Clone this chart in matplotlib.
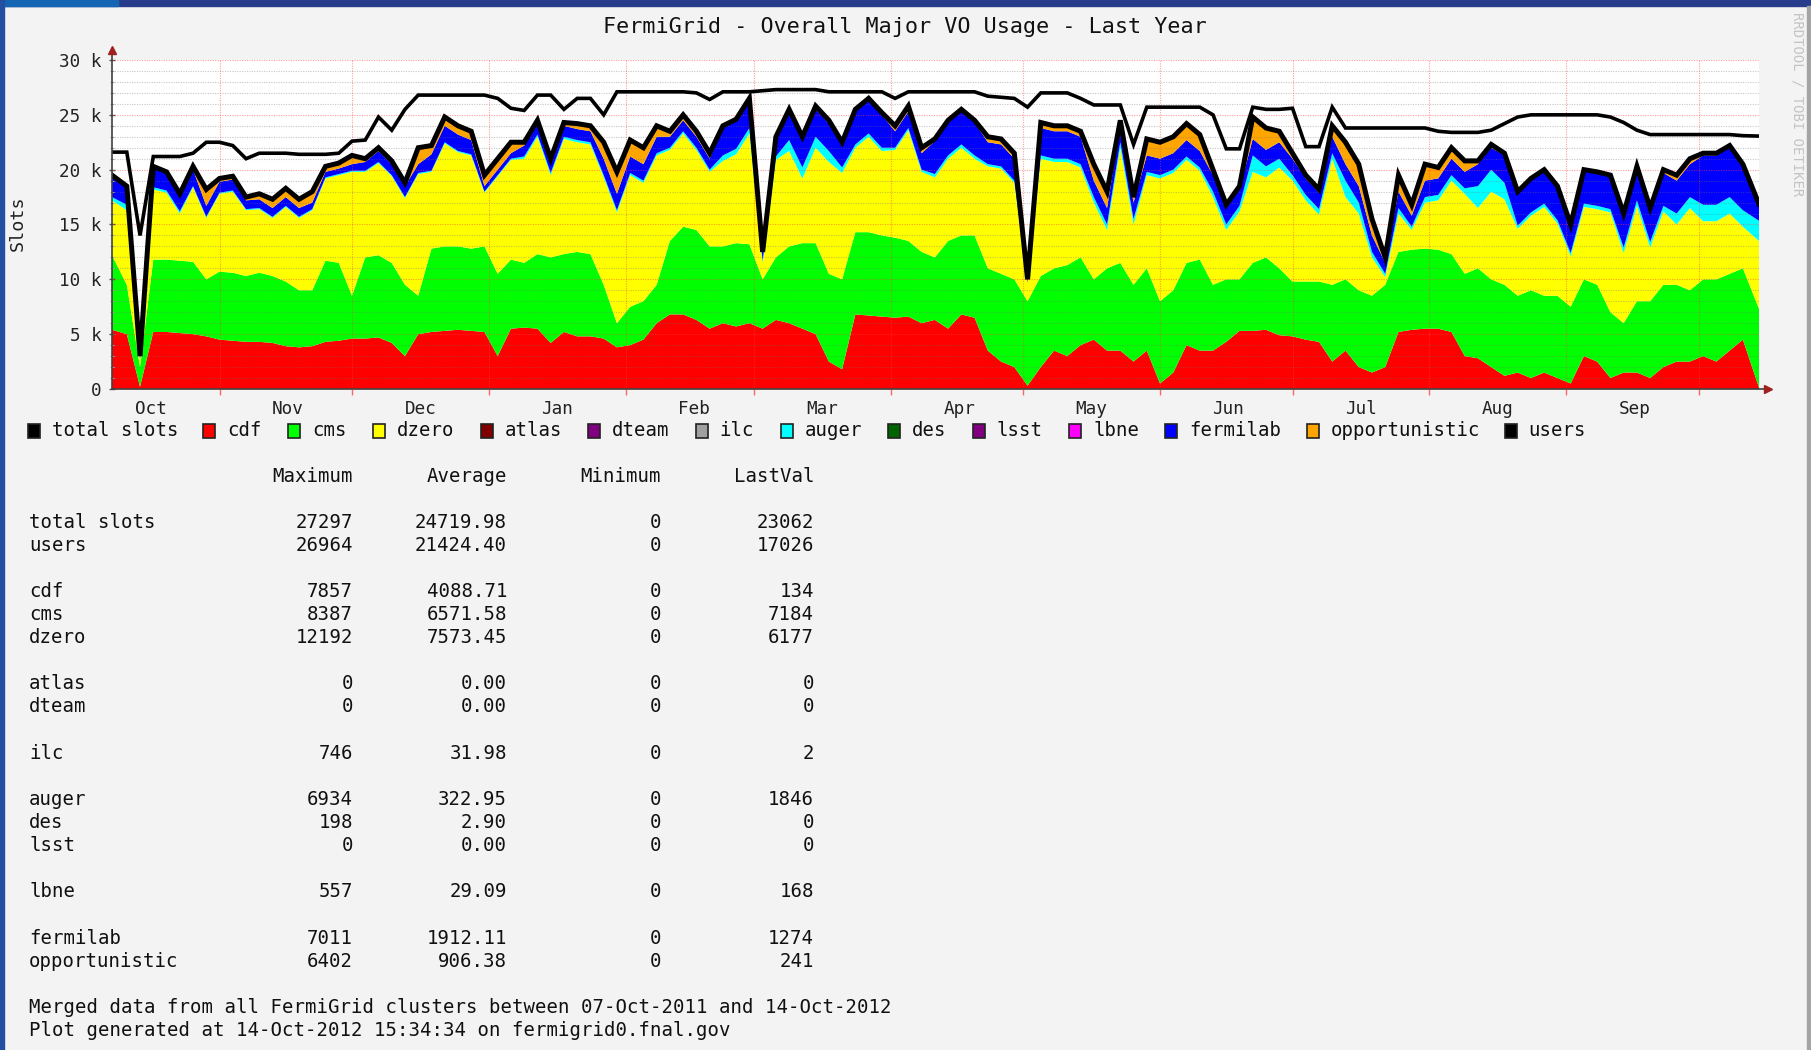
import numpy as np
import pandas as pd
import matplotlib
matplotlib.use('Agg')
import matplotlib.pyplot as plt
import matplotlib.dates as mdates
from matplotlib.patches import Rectangle

# values every 3 days, in thousands of slots
cdf = [5.4, 5.0, 0.2, 5.2, 5.2, 5.1, 5.0, 4.8, 4.5, 4.4,
       4.3, 4.3, 4.2, 3.9, 3.8, 3.9, 4.3, 4.4, 4.6, 4.6,
       4.7, 4.2, 3.0, 5.0, 5.2, 5.3, 5.4, 5.3, 5.2, 3.0,
       5.5, 5.6, 5.5, 4.2, 5.2, 4.8, 4.8, 4.6, 3.8, 4.0,
       4.5, 6.0, 6.8, 6.8, 6.3, 5.5, 6.0, 5.7, 6.0, 5.5,
       6.3, 6.0, 5.5, 5.0, 2.5, 1.8, 6.8, 6.7, 6.6, 6.5,
       6.6, 6.0, 6.3, 5.5, 6.8, 6.5, 3.5, 2.5, 2.0, 0.3,
       2.0, 3.5, 3.0, 4.0, 4.5, 3.5, 3.5, 2.5, 3.5, 0.5,
       1.5, 4.0, 3.5, 3.5, 4.3, 5.3, 5.3, 5.4, 4.9, 4.8,
       4.5, 4.3, 2.5, 3.5, 2.0, 1.5, 2.0, 5.2, 5.4, 5.5,
       5.5, 5.2, 3.0, 2.8, 2.0, 1.2, 1.5, 1.0, 1.5, 1.0,
       0.5, 3.0, 2.5, 1.0, 1.5, 1.5, 1.0, 2.0, 2.5, 2.5,
       3.0, 2.5, 3.5, 4.5, 0.134]
cms = [6.8, 4.5, 1.8, 6.6, 6.6, 6.6, 6.6, 5.2, 6.2, 6.2,
       6.0, 6.3, 6.1, 5.9, 5.2, 5.1, 7.4, 7.1, 3.9, 7.4,
       7.5, 7.3, 6.5, 3.5, 7.6, 7.7, 7.6, 7.5, 7.8, 7.5,
       6.3, 5.9, 6.8, 7.8, 7.1, 7.7, 7.5, 4.9, 2.2, 3.5,
       3.5, 3.5, 6.7, 8.0, 8.2, 7.5, 7.0, 7.6, 7.2, 4.5,
       5.7, 7.0, 7.8, 8.3, 8.0, 8.2, 7.5, 7.6, 7.4, 7.3,
       6.9, 6.5, 5.7, 8.0, 7.2, 7.5, 7.5, 8.0, 8.0, 7.7,
       8.3, 7.5, 8.3, 8.0, 5.5, 7.5, 8.0, 7.0, 7.5, 7.5,
       7.5, 7.5, 8.3, 6.0, 5.7, 4.7, 6.2, 6.6, 6.1, 5.0,
       5.3, 5.5, 7.0, 6.5, 7.0, 7.0, 7.5, 7.3, 7.3, 7.3,
       7.2, 7.1, 7.5, 8.2, 8.0, 8.3, 7.0, 8.0, 7.0, 7.5,
       7.0, 7.0, 7.0, 6.0, 4.5, 6.5, 7.0, 7.5, 7.0, 6.5,
       7.0, 7.5, 7.0, 6.5, 7.184]
dzero = [5.0, 6.8, 0.6, 6.4, 6.1, 4.3, 6.8, 5.6, 7.1, 7.4,
         6.0, 5.8, 5.3, 6.8, 6.6, 7.3, 7.5, 8.0, 11.3, 7.8,
         8.4, 7.9, 7.9, 11.1, 7.0, 9.4, 8.6, 8.5, 4.9, 8.9,
         9.1, 9.5, 10.7, 7.5, 10.5, 10.0, 10.0, 9.8, 10.1, 12.0,
         10.8, 11.8, 8.3, 8.5, 7.3, 6.8, 7.8, 8.1, 10.1, 1.5,
         8.9, 8.7, 5.9, 8.7, 10.2, 9.7, 7.7, 8.7, 7.7, 8.0,
         10.1, 7.3, 7.3, 7.5, 8.0, 7.0, 9.3, 9.6, 8.8, 1.7,
         10.7, 9.7, 9.4, 8.2, 7.0, 3.5, 10.5, 5.5, 8.5, 11.2,
         10.7, 9.4, 8.1, 8.0, 4.5, 6.2, 8.3, 7.3, 9.2, 9.2,
         7.4, 6.1, 11.5, 7.5, 7.0, 3.5, 0.7, 3.5, 1.8, 4.2,
         4.5, 6.7, 7.3, 5.5, 8.0, 7.8, 6.1, 6.8, 8.1, 6.6,
         4.6, 6.6, 6.9, 9.1, 6.4, 8.7, 4.9, 6.7, 5.5, 7.5,
         5.3, 5.3, 5.5, 3.8, 6.177]
auger = [0.3, 0.5, 0.1, 0.2, 0.2, 0.2, 0.1, 0.1, 0.1, 0.1,
         0.1, 0.1, 0.1, 0.1, 0.1, 0.1, 0.1, 0.1, 0.1, 0.1,
         0.1, 0.1, 0.1, 0.1, 0.1, 0.1, 0.1, 0.1, 0.1, 0.1,
         0.1, 0.2, 0.2, 0.2, 0.2, 0.2, 0.2, 0.2, 0.2, 0.2,
         0.2, 0.2, 0.2, 0.2, 0.2, 0.2, 0.5, 0.5, 0.5, 0.2,
         0.3, 1.0, 1.0, 1.0, 1.0, 0.5, 0.3, 0.3, 0.3, 0.2,
         0.2, 0.2, 0.3, 0.3, 0.3, 0.3, 0.2, 0.2, 0.2, 0.0,
         0.3, 0.3, 0.3, 0.3, 0.5, 0.5, 0.5, 0.5, 0.3, 0.3,
         0.3, 0.3, 0.3, 0.5, 0.5, 0.5, 1.5, 1.0, 0.8, 0.5,
         0.5, 0.5, 0.5, 1.5, 1.0, 0.5, 0.3, 0.5, 0.3, 0.5,
         0.5, 0.5, 0.5, 2.0, 2.0, 1.5, 0.3, 0.3, 0.3, 0.3,
         0.3, 0.3, 0.3, 0.3, 0.5, 0.5, 0.5, 0.5, 1.0, 1.0,
         1.5, 1.5, 1.5, 1.5, 1.846]
fermilab = [1.8, 1.5, 0.3, 1.8, 1.6, 1.5, 1.5, 1.0, 1.0, 1.0,
            0.8, 0.8, 0.8, 0.8, 0.8, 0.6, 0.5, 0.5, 0.6, 0.8,
            1.0, 1.0, 1.0, 0.8, 1.5, 1.5, 1.5, 1.3, 0.5, 0.5,
            0.5, 1.0, 1.0, 1.0, 1.0, 1.0, 1.0, 1.5, 1.5, 1.5,
            1.5, 1.5, 1.0, 1.0, 1.0, 1.0, 2.5, 2.5, 2.5, 0.8,
            1.5, 2.5, 2.5, 2.5, 2.5, 2.0, 3.0, 3.0, 3.0, 1.5,
            1.5, 1.5, 3.0, 3.0, 3.0, 3.0, 2.0, 2.0, 2.0, 0.3,
            2.5, 2.5, 2.5, 2.5, 1.5, 1.5, 1.5, 1.5, 1.5, 1.5,
            1.5, 1.5, 1.5, 1.5, 1.5, 1.5, 1.5, 1.5, 1.5, 1.5,
            1.5, 1.5, 1.5, 1.5, 1.5, 1.5, 1.0, 1.5, 1.0, 1.5,
            1.5, 1.5, 1.5, 2.0, 2.0, 2.5, 3.0, 3.0, 3.0, 3.0,
            2.5, 3.0, 3.0, 3.0, 3.0, 3.0, 3.0, 3.0, 3.0, 3.0,
            4.5, 4.5, 4.5, 4.0, 1.274]
opportunistic = [0.2, 0.2, 0.0, 0.1, 0.1, 0.1, 0.3, 1.5, 0.3, 0.3,
                 0.3, 0.5, 0.8, 0.8, 0.8, 1.0, 0.5, 0.5, 0.8, 0.3,
                 0.3, 0.3, 0.3, 1.5, 0.8, 0.8, 0.8, 0.8, 1.0, 1.0,
                 1.0, 0.3, 0.3, 0.3, 0.3, 0.5, 0.5, 1.5, 2.0, 1.5,
                 1.5, 1.0, 0.5, 0.5, 0.5, 0.5, 0.2, 0.2, 0.2, 0.0,
                 0.3, 0.3, 0.3, 0.3, 0.3, 0.3, 0.2, 0.2, 0.2, 0.5,
                 0.5, 0.5, 0.2, 0.2, 0.2, 0.2, 0.5, 0.5, 0.5, 0.0,
                 0.5, 0.5, 0.5, 0.5, 1.5, 1.5, 0.5, 0.5, 1.5, 1.5,
                 1.5, 1.5, 1.5, 0.5, 0.3, 0.3, 2.0, 2.0, 1.0, 0.5,
                 0.3, 0.3, 1.0, 2.0, 2.0, 1.5, 0.5, 1.5, 1.0, 1.5,
                 1.0, 1.0, 1.0, 0.3, 0.3, 0.2, 0.1, 0.1, 0.1, 0.1,
                 0.1, 0.1, 0.1, 0.1, 0.1, 0.1, 0.1, 0.3, 0.5, 0.5,
                 0.2, 0.2, 0.2, 0.2, 0.241]
total_slots = [21.6, 21.6, 14.0, 21.2, 21.2, 21.2, 21.5, 22.5, 22.5, 22.2,
               21.0, 21.5, 21.5, 21.5, 21.4, 21.4, 21.4, 21.5, 22.6, 22.7,
               24.8, 23.6, 25.5, 26.8, 26.8, 26.8, 26.8, 26.8, 26.8, 26.5,
               25.6, 25.4, 26.8, 26.8, 25.5, 26.5, 26.5, 25.0, 27.1, 27.1,
               27.1, 27.1, 27.1, 27.1, 27.0, 26.4, 27.1, 27.1, 27.1, 27.2,
               27.3, 27.3, 27.3, 27.3, 27.1, 27.1, 27.1, 27.1, 27.1, 26.5,
               27.1, 27.1, 27.1, 27.1, 27.1, 27.1, 26.7, 26.6, 26.5, 25.7,
               27.0, 27.0, 27.0, 26.5, 25.9, 25.9, 25.9, 22.3, 25.7, 25.7,
               25.7, 25.7, 25.7, 25.0, 21.9, 21.9, 25.7, 25.5, 25.5, 25.6,
               22.1, 22.1, 25.7, 23.8, 23.8, 23.8, 23.8, 23.8, 23.8, 23.8,
               23.5, 23.4, 23.4, 23.4, 23.6, 24.2, 24.8, 25.0, 25.0, 25.0,
               25.0, 25.0, 25.0, 24.8, 24.3, 23.6, 23.2, 23.2, 23.2, 23.2,
               23.2, 23.2, 23.2, 23.1, 23.062]

stat_names = ['total slots', 'users', 'cdf', 'cms', 'dzero', 'atlas', 'dteam',
              'ilc', 'auger', 'des', 'lsst', 'lbne', 'fermilab', 'opportunistic']
stat_max = [27297, 26964, 7857, 8387, 12192, 0, 0, 746, 6934, 198, 0, 557, 7011, 6402]
stat_avg = [24719.98, 21424.40, 4088.71, 6571.58, 7573.45, 0.00, 0.00,
            31.98, 322.95, 2.90, 0.00, 29.09, 1912.11, 906.38]
stat_min = [0, 0, 0, 0, 0, 0, 0, 0, 0, 0, 0, 0, 0, 0]
stat_last = [23062, 17026, 134, 7184, 6177, 0, 0, 2, 1846, 0, 0, 168, 1274, 241]
stat_rows = [2, 3, 5, 6, 7, 9, 10, 12, 14, 15, 16, 18, 20, 21]

legend_names = ['total slots', 'cdf', 'cms', 'dzero', 'atlas', 'dteam', 'ilc',
                'auger', 'des', 'lsst', 'lbne', 'fermilab', 'opportunistic', 'users']
legend_colors = ['#000000', '#ff0000', '#00ff00', '#ffff00', '#800000', '#800080', '#a0a0a0',
                 '#00ffff', '#006400', '#800080', '#ff00ff', '#0000ff', '#ffa500', '#000000']

W, H = 1811, 1050
FS = 13.7
plt.rcParams['font.family'] = 'DejaVu Sans Mono'


def fx(px):
    return px / W


def fy(py):
    return 1 - py / H


t0 = pd.Timestamp('2011-10-07 15:34')
t1 = pd.Timestamp('2012-10-14 15:34')
times = list(pd.date_range('2011-10-08', periods=len(cdf), freq='3D'))
times[0] = t0
times[-1] = t1
x = mdates.date2num(times)

k = 1000.0
layers = [np.array(s) * k for s in (cdf, cms, dzero, auger, fermilab, opportunistic)]
layer_colors = ['#ff0000', '#00ff00', '#ffff00', '#00ffff', '#0000ff', '#ffa500']
users = np.sum(layers, axis=0)
total = np.array(total_slots) * k

fig = plt.figure(figsize=(W / 100, H / 100), dpi=100, facecolor='#f3f3f3')
ax = fig.add_axes([fx(112), fy(389), (1759 - 112) / W, (389 - 60) / H])
ax.set_facecolor('white')

ax.stackplot(x, *layers, colors=layer_colors, linewidth=0.6, zorder=1)

# rrdtool style dotted grid, drawn over the areas
for v in range(1000, 30001, 1000):
    if v % 5000:
        ax.axhline(v, color=(0.45, 0.45, 0.45, 0.4), lw=0.8, ls=(0, (1, 1.2)), zorder=2)
    else:
        ax.axhline(v, color=(1.0, 0.25, 0.25, 0.5), lw=0.8, ls=(0, (1, 1.2)), zorder=2)
month_starts = pd.date_range('2011-11-01', '2012-10-01', freq='MS')
for m in month_starts:
    ax.axvline(mdates.date2num(m), color=(1.0, 0.25, 0.25, 0.5), lw=0.8, ls=(0, (1, 1.2)), zorder=2)

ax.plot(x, total, color='black', lw=2.6, zorder=4, solid_joinstyle='miter')
ax.plot(x, users, color='black', lw=3.6, zorder=4, solid_joinstyle='miter')

ax.set_xlim(mdates.date2num(t0), mdates.date2num(t1))
ax.set_ylim(0, 30000)
for s in ax.spines.values():
    s.set_visible(False)

# axis lines with arrows
ax.plot([0, 0], [0, 1.025], transform=ax.transAxes, color='#404040', lw=1.2, clip_on=False, zorder=5)
ax.plot([0, 1.004], [0, 0], transform=ax.transAxes, color='#404040', lw=1.2, clip_on=False, zorder=5)
ax.plot([0], [1.03], marker='^', ms=6, color='#a02020', transform=ax.transAxes, clip_on=False, zorder=6)
ax.plot([1.0055], [0], marker='>', ms=6, color='#a02020', transform=ax.transAxes, clip_on=False, zorder=6)

ax.set_yticks(range(0, 30001, 5000))
ax.set_yticklabels(['0'] + ['%d k' % (v // 1000) for v in range(5000, 30001, 5000)])
ax.set_yticks(range(0, 30001, 1000), minor=True)
ax.tick_params(axis='y', which='major', direction='inout', length=5, width=1, color='#555555',
               labelsize=12.7, pad=5, labelcolor='#222222')
ax.tick_params(axis='y', which='minor', direction='inout', length=3, width=0.8, color='#aaaaaa')

label_months = pd.date_range('2011-10-01', '2012-09-01', freq='MS')
ax.set_xticks([mdates.date2num(m) + 15.5 for m in label_months])
ax.set_xticklabels([m.strftime('%b') for m in label_months])
ax.set_xticks(mdates.date2num(month_starts), minor=True)
ax.tick_params(axis='x', which='major', length=0, labelsize=12.7, pad=8, labelcolor='#222222')
ax.tick_params(axis='x', which='minor', direction='out', length=4, width=1, color=(1.0, 0.4, 0.4))

# frame decoration of the screenshot
fig.patches.append(Rectangle((0, fy(6)), 1, 6 / H, transform=fig.transFigure,
                             color='#283c8c', zorder=0))
fig.patches.append(Rectangle((0, fy(6)), fx(118), 6 / H, transform=fig.transFigure,
                             color='#1565b5', zorder=0))
fig.patches.append(Rectangle((0, 0), fx(4), 1, transform=fig.transFigure,
                             color='#2350a0', zorder=0))
fig.patches.append(Rectangle((fx(1807), 0), fx(4), fy(6), transform=fig.transFigure,
                             color='#a4a4a4', zorder=0))

fig.text(fx(905), fy(27), 'FermiGrid - Overall Major VO Usage - Last Year',
         ha='center', va='center', fontsize=15.7, color='#111111')
fig.text(fx(18), fy(223), 'Slots', rotation=90, ha='center', va='center', fontsize=13.2, color='#222222')
fig.text(fx(1797), fy(12), 'RRDTOOL / TOBI OETIKER', rotation=270, ha='center', va='top',
         fontsize=10, color='#c4c4c4')

# legend row
cw = 11.3
lx = 28
for name, col in zip(legend_names, legend_colors):
    fig.patches.append(Rectangle((fx(lx), fy(438)), 12 / W, 14 / H, transform=fig.transFigure,
                                 facecolor=col, edgecolor='#222222', lw=1.2, zorder=3))
    fig.text(fx(lx + 24), fy(431), name, ha='left', va='center', fontsize=FS, color='#111111')
    lx += 24 + len(name) * cw + 27

# statistics table
row0, dy = 476, 23.1
cols = [353, 507, 661, 814]
for cx, head in zip(cols, ['Maximum', 'Average', 'Minimum', 'LastVal']):
    fig.text(fx(cx), fy(row0), head, ha='right', va='center', fontsize=FS, color='#111111')
for r, name, mx, av, mn, lv in zip(stat_rows, stat_names, stat_max, stat_avg, stat_min, stat_last):
    yy = fy(row0 + r * dy)
    fig.text(fx(29), yy, name, ha='left', va='center', fontsize=FS, color='#111111')
    for cx, s in zip(cols, ['%d' % mx, '%.2f' % av, '%d' % mn, '%d' % lv]):
        fig.text(fx(cx), yy, s, ha='right', va='center', fontsize=FS, color='#111111')

fig.text(fx(29), fy(row0 + 23 * dy), 'Merged data from all FermiGrid clusters between 07-Oct-2011 and 14-Oct-2012',
         ha='left', va='center', fontsize=FS, color='#111111')
fig.text(fx(29), fy(row0 + 24 * dy), 'Plot generated at 14-Oct-2012 15:34:34 on fermigrid0.fnal.gov',
         ha='left', va='center', fontsize=FS, color='#111111')

fig.savefig('out.png', dpi=100, facecolor=fig.get_facecolor())
